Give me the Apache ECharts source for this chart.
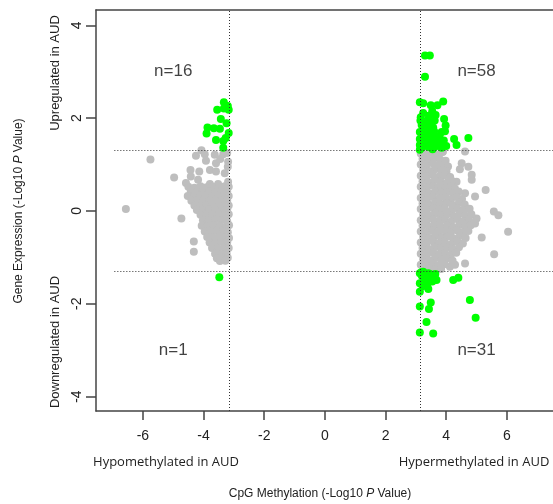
<!DOCTYPE html>
<html>
<head>
<meta charset="utf-8">
<script src="https://cdn.jsdelivr.net/npm/echarts@6/dist/echarts.min.js"></script>
<style>
  html, body { margin: 0; padding: 0; background: #fff; }
  #chart { width: 553px; height: 504px; }
</style>
</head>
<body>
<div id="chart"></div>
<script>
const xTicks = [-6, -4, -2, 0, 2, 4, 6];
const yTicks = [-4, -2, 0, 2, 4];
const methCut = 3.16;
const exprCut = 1.301;

const countLabels = ["n=16", "n=58", "n=1", "n=31"];
const countPos = [[-5, 3], [5, 3], [-5, -3], [5, -3]];

// hypomethylated, not significant for expression
const leftGray = [
  [-6.56, 0.04], [-5.75, 1.11], [-4.97, 0.72], [-4.73, -0.16], [-4.42, 0.74], [-4.43, 0.88],
  [-4.58, 0.6], [-4.32, -0.66], [-4.32, -0.88], [-4.07, 1.31], [-4.25, 1.19], [-3.96, 1.22],
  [-3.63, 1.21], [-3.35, 1.22], [-3.92, 1.08], [-3.59, 1.03], [-3.19, 1.06], [-4.14, 0.85],
  [-3.79, 0.88], [-3.59, 0.85], [-3.3, 0.81], [-4.18, 0.67], [-3.79, 0.58], [-3.52, 0.58],
  [-3.19, 0.63], [-3.22, 1.25], [-3.2, 0.95], [-3.45, 1.12],
  [-4.5, 0.52], [-4.3, 0.5], [-4.1, 0.53], [-3.9, 0.51], [-3.7, 0.52], [-3.5, 0.5], [-3.3, 0.53], [-3.17, 0.52],
  [-4.42, 0.42], [-4.22, 0.41], [-4.02, 0.43], [-3.82, 0.42], [-3.62, 0.4], [-3.42, 0.43], [-3.22, 0.42],
  [-4.52, 0.32], [-4.32, 0.31], [-4.12, 0.33], [-3.92, 0.32], [-3.72, 0.3], [-3.52, 0.33], [-3.32, 0.31], [-3.17, 0.32],
  [-4.4, 0.22], [-4.2, 0.21], [-4.0, 0.23], [-3.8, 0.22], [-3.6, 0.2], [-3.4, 0.23], [-3.22, 0.22],
  [-4.3, 0.12], [-4.1, 0.11], [-3.9, 0.13], [-3.7, 0.12], [-3.5, 0.1], [-3.3, 0.13], [-3.17, 0.12],
  [-4.22, 0.02], [-4.02, 0.01], [-3.82, 0.03], [-3.62, 0.02], [-3.42, 0.0], [-3.22, 0.03],
  [-4.1, -0.08], [-3.9, -0.09], [-3.7, -0.07], [-3.5, -0.08], [-3.3, -0.1], [-3.17, -0.07],
  [-4.02, -0.2], [-3.82, -0.21], [-3.62, -0.19], [-3.42, -0.2], [-3.22, -0.22],
  [-4.06, -0.32], [-3.86, -0.33], [-3.66, -0.31], [-3.46, -0.32], [-3.26, -0.34], [-3.16, -0.31],
  [-3.96, -0.44], [-3.76, -0.45], [-3.56, -0.43], [-3.36, -0.44], [-3.2, -0.46],
  [-3.88, -0.56], [-3.68, -0.57], [-3.48, -0.55], [-3.28, -0.56], [-3.16, -0.58],
  [-3.8, -0.68], [-3.6, -0.69], [-3.4, -0.67], [-3.22, -0.68],
  [-3.72, -0.8], [-3.52, -0.81], [-3.32, -0.79], [-3.17, -0.8],
  [-3.62, -0.92], [-3.42, -0.93], [-3.24, -0.91],
  [-3.56, -1.02], [-3.36, -1.03], [-3.2, -1.01],
  [-3.46, -1.08], [-3.28, -1.07]
];

// hypermethylated, not significant for expression
const rightGray = [
  [4.62, 1.28], [4.51, 1.03], [4.73, 0.95], [4.45, 0.9], [4.84, 0.78], [4.84, 0.67], [4.34, 0.63],
  [5.3, 0.45], [4.62, 0.38], [4.95, 0.31], [5.57, -0.01], [5.72, -0.09], [6.04, -0.45], [5.17, -0.57],
  [5.58, -0.93], [4.62, -1.13], [4.95, -0.27], [5.0, -0.16], [4.29, -1.16], [4.12, -1.2], [3.89, 1.28],
  [3.16, 1.24], [3.35, 1.22], [3.55, 1.25], [3.72, 1.21], [3.88, 1.27],
  [3.22, 1.12], [3.43, 1.1], [3.61, 1.14], [3.8, 1.11], [3.98, 1.08],
  [3.16, 1.0], [3.34, 0.98], [3.56, 1.02], [3.74, 0.99], [3.93, 1.01], [4.06, 0.96],
  [3.24, 0.88], [3.45, 0.86], [3.63, 0.9], [3.83, 0.87], [4.01, 0.85],
  [3.16, 0.76], [3.37, 0.75], [3.56, 0.78], [3.77, 0.74], [3.95, 0.77], [4.13, 0.73],
  [3.22, 0.64], [3.41, 0.62], [3.62, 0.66], [3.82, 0.63], [4.02, 0.61], [4.18, 0.65],
  [3.16, 0.52], [3.36, 0.5], [3.57, 0.54], [3.75, 0.51], [3.96, 0.49], [4.15, 0.53], [4.29, 0.48],
  [3.24, 0.4], [3.44, 0.38], [3.65, 0.42], [3.84, 0.39], [4.04, 0.41], [4.23, 0.37], [4.41, 0.42],
  [3.16, 0.28], [3.37, 0.26], [3.56, 0.3], [3.76, 0.27], [3.97, 0.29], [4.16, 0.25], [4.35, 0.3], [4.52, 0.26],
  [3.22, 0.16], [3.42, 0.14], [3.63, 0.18], [3.82, 0.15], [4.02, 0.17], [4.21, 0.13], [4.42, 0.18], [4.61, 0.14],
  [3.16, 0.04], [3.36, 0.02], [3.57, 0.06], [3.76, 0.03], [3.95, 0.05], [4.17, 0.01], [4.36, 0.06], [4.56, 0.02], [4.77, 0.05],
  [3.24, -0.08], [3.45, -0.1], [3.64, -0.06], [3.83, -0.09], [4.04, -0.07], [4.25, -0.11], [4.44, -0.06], [4.63, -0.1], [4.83, -0.07],
  [3.16, -0.2], [3.35, -0.22], [3.56, -0.18], [3.77, -0.21], [3.96, -0.19], [4.16, -0.23], [4.37, -0.18], [4.55, -0.22], [4.75, -0.19],
  [3.22, -0.32], [3.43, -0.34], [3.62, -0.3], [3.81, -0.33], [4.03, -0.31], [4.22, -0.35], [4.43, -0.3], [4.62, -0.34], [4.81, -0.31],
  [3.16, -0.44], [3.37, -0.46], [3.56, -0.42], [3.75, -0.45], [3.97, -0.43], [4.15, -0.47], [4.36, -0.42], [4.56, -0.46], [4.73, -0.43],
  [3.24, -0.56], [3.44, -0.58], [3.63, -0.54], [3.85, -0.57], [4.04, -0.55], [4.23, -0.59], [4.45, -0.54], [4.64, -0.58],
  [3.16, -0.68], [3.35, -0.7], [3.57, -0.66], [3.76, -0.69], [3.95, -0.67], [4.17, -0.71], [4.36, -0.66], [4.55, -0.7],
  [3.22, -0.8], [3.43, -0.82], [3.62, -0.78], [3.83, -0.81], [4.02, -0.79], [4.21, -0.83], [4.42, -0.78],
  [3.16, -0.92], [3.36, -0.94], [3.57, -0.9], [3.76, -0.93], [3.96, -0.91], [4.15, -0.95], [4.33, -0.9],
  [3.24, -1.04], [3.44, -1.06], [3.63, -1.02], [3.84, -1.05], [4.03, -1.03], [4.21, -1.07],
  [3.16, -1.16], [3.35, -1.18], [3.56, -1.14], [3.75, -1.17], [3.94, -1.15],
  [3.24, -1.26], [3.45, -1.24], [3.63, -1.27], [3.83, -1.25]
];

// significant in both
const leftGreenUp = [
  [-3.33, 2.34], [-3.55, 2.18], [-3.33, 2.21], [-3.17, 2.18], [-3.43, 1.98], [-3.24, 1.89],
  [-3.87, 1.8], [-3.66, 1.78], [-3.46, 1.77], [-3.9, 1.67], [-3.59, 1.53], [-3.27, 1.57],
  [-3.35, 1.51], [-3.35, 1.36], [-3.2, 2.26], [-3.17, 1.68]
];
const leftGreenDown = [[-3.48, -1.43]];
const rightGreenUp = [
  [3.3, 3.35], [3.46, 3.35], [3.3, 2.89], [3.13, 2.34], [3.24, 2.32], [3.49, 2.28], [3.71, 2.28],
  [3.9, 2.36], [3.24, 2.11], [3.43, 2.05], [3.65, 2.07], [3.93, 1.98], [3.19, 1.85], [3.35, 1.82],
  [3.57, 1.8], [3.98, 1.84], [3.13, 1.7], [3.32, 1.7], [3.52, 1.67], [3.85, 1.7], [3.96, 1.72],
  [3.13, 1.55], [3.35, 1.55], [3.57, 1.53], [4.26, 1.55], [4.73, 1.57], [3.13, 1.42], [3.35, 1.42],
  [3.74, 1.44], [4.34, 1.42], [3.13, 1.32], [3.2, 1.36], [3.28, 1.48], [3.42, 1.38], [3.5, 1.48],
  [3.62, 1.38], [3.66, 1.58], [3.22, 1.62], [3.44, 1.6], [3.4, 1.75], [3.26, 1.78], [3.15, 1.95],
  [3.48, 1.9], [3.62, 1.95], [3.18, 1.48], [3.55, 1.33], [3.85, 1.36], [3.92, 1.52], [3.24, 1.4],
  [3.7, 1.48], [3.46, 1.52], [3.33, 1.64], [3.6, 1.72], [3.16, 2.02], [3.78, 1.62], [3.38, 1.95],
  [3.54, 2.15], [4.0, 1.4]
];
const rightGreenDown = [
  [3.13, -1.34], [3.24, -1.31], [3.41, -1.34], [3.57, -1.38], [3.68, -1.49], [3.46, -1.49],
  [3.3, -1.45], [3.13, -1.56], [4.23, -1.49], [4.4, -1.44], [3.13, -1.74], [3.41, -1.68],
  [4.78, -1.92], [3.49, -1.97], [3.13, -2.06], [3.43, -2.11], [4.97, -2.3], [3.35, -2.39],
  [3.13, -2.62], [3.57, -2.64], [3.2, -1.4], [3.35, -1.36], [3.5, -1.42], [3.64, -1.36],
  [3.28, -1.52], [3.18, -1.32], [3.54, -1.52], [3.38, -1.58], [3.62, -1.44], [3.22, -1.62],
  [3.46, -1.36]
];

const chart = echarts.init(document.getElementById("chart"));

const font = "'Liberation Sans', Arial, sans-serif";
const axisColor = "#444";
const cutLine = { color: "#333", width: 1, type: [1, 2] };

const option = {
  animation: false,
  grid: { left: 96, top: 10, right: 0, bottom: 93 },
  xAxis: [
    {
      type: "value",
      min: -7.545,
      max: 7.52,
      splitLine: { show: false },
      axisLine: { onZero: false, lineStyle: { color: axisColor, width: 1.5 } },
      axisTick: { customValues: xTicks, length: 9, lineStyle: { color: axisColor, width: 1.5 } },
      axisLabel: { customValues: xTicks, margin: 18, fontSize: 14, color: "#222", fontFamily: font }
    },
    {
      type: "value",
      position: "top",
      min: -7.545,
      max: 7.52,
      splitLine: { show: false },
      axisLine: { onZero: false, lineStyle: { color: axisColor, width: 1.5 } },
      axisTick: { show: false },
      axisLabel: { show: false }
    }
  ],
  yAxis: {
    type: "value",
    min: -4.31,
    max: 4.33,
    splitLine: { show: false },
    axisLine: { onZero: false, lineStyle: { color: axisColor, width: 1.5 } },
    axisTick: { customValues: yTicks, length: 10, lineStyle: { color: axisColor, width: 1.5 } },
    axisLabel: { customValues: yTicks, rotate: 90, margin: 12, fontSize: 14, color: "#222", fontFamily: font }
  },
  series: [
    {
      name: "ns",
      type: "scatter",
      symbolSize: 8,
      itemStyle: { color: "#BEBEBE", opacity: 1 },
      data: leftGray.concat(rightGray),
      markLine: {
        silent: true,
        symbol: "none",
        label: { show: false },
        lineStyle: cutLine,
        data: [
          { xAxis: -methCut },
          { xAxis: methCut },
          [{ coord: [-6.94, exprCut] }, { coord: [7.52, exprCut] }],
          [{ coord: [-6.94, -exprCut] }, { coord: [7.52, -exprCut] }]
        ]
      }
    },
    {
      name: "sig",
      type: "scatter",
      symbolSize: 8,
      itemStyle: { color: "#00FF00", opacity: 1 },
      data: leftGreenUp.concat(leftGreenDown, rightGreenUp, rightGreenDown)
    },
    {
      name: "counts",
      type: "scatter",
      symbolSize: 0,
      silent: true,
      label: {
        show: true,
        position: "inside",
        fontSize: 17,
        color: "#111",
        fontFamily: font,
        formatter: (p) => countLabels[p.dataIndex]
      },
      data: countPos
    }
  ],
  graphic: [
    {
      type: "text", x: 19, y: 211, rotation: Math.PI / 2,
      style: {
        text: "Gene Expression (-Log10 {i|P} Value)",
        rich: { i: { fontStyle: "italic", fontSize: 12, fontFamily: font, fill: "#222" } },
        fontSize: 12, fontFamily: font, fill: "#222", align: "center", verticalAlign: "middle"
      }
    },
    {
      type: "text", x: 55, y: 73, rotation: Math.PI / 2,
      style: { text: "Upregulated in AUD", fontSize: 13, fontFamily: font, fill: "#222", align: "center", verticalAlign: "middle" }
    },
    {
      type: "text", x: 55, y: 342, rotation: Math.PI / 2,
      style: { text: "Downregulated in AUD", fontSize: 13, fontFamily: font, fill: "#222", align: "center", verticalAlign: "middle" }
    },
    {
      type: "text", x: 166, y: 462,
      style: { text: "Hypomethylated in AUD", fontSize: 13, fontFamily: "'Open Sans', sans-serif", fill: "#222", align: "center", verticalAlign: "middle" }
    },
    {
      type: "text", x: 474, y: 462,
      style: { text: "Hypermethylated in AUD", fontSize: 13, fontFamily: "'Open Sans', sans-serif", fill: "#222", align: "center", verticalAlign: "middle" }
    },
    {
      type: "text", x: 320, y: 494,
      style: {
        text: "CpG Methylation (-Log10 {i|P} Value)",
        rich: { i: { fontStyle: "italic", fontSize: 12, fontFamily: font, fill: "#222" } },
        fontSize: 12, fontFamily: font, fill: "#222", align: "center", verticalAlign: "middle"
      }
    }
  ]
};

chart.setOption(option);
</script>
</body>
</html>
